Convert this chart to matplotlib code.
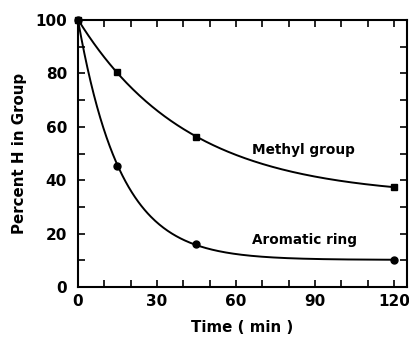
import numpy as np
import matplotlib.pyplot as plt

# readings
t = [0, 15, 45, 120]
methyl = [100, 80.5, 56, 37.5]
aromatic = [100, 45.5, 16, 10]


def fit_exp(x, y):
    # y = a + b*exp(-k x), grid over k, least squares for a, b
    x = np.asarray(x, float)
    y = np.asarray(y, float)
    best = None
    for k in np.linspace(0.002, 0.2, 2000):
        A = np.column_stack([np.ones_like(x), np.exp(-k * x)])
        coef, *_ = np.linalg.lstsq(A, y, rcond=None)
        err = np.sum((A @ coef - y) ** 2)
        if best is None or err < best[0]:
            best = (err, coef[0], coef[1], k)
    return best[1:]


fig = plt.figure(figsize=(4.09, 3.39), dpi=100)
ax = fig.add_axes([78 / 409, 52 / 339, 329 / 409, 267 / 339])

tt = np.linspace(0, 120, 300)
for y, m in [(methyl, "s"), (aromatic, "o")]:
    a, b, k = fit_exp(t, y)
    ax.plot(tt, a + b * np.exp(-k * tt), color="black", lw=1.4)
    ax.plot(t, y, m, color="black", ms=5, clip_on=False)

ax.text(66, 51.3, "Methyl group", fontsize=9.8, fontweight="bold", va="center")
ax.text(66, 17.6, "Aromatic ring", fontsize=9.8, fontweight="bold", va="center")

ax.set_xlim(0, 125)
ax.set_ylim(0, 100)
ax.set_xticks([0, 30, 60, 90, 120])
ax.set_xticks(range(0, 121, 10), minor=True)
ax.set_yticks([0, 20, 40, 60, 80, 100])
ax.set_yticks(range(0, 101, 10), minor=True)
ax.tick_params(which="both", direction="in", top=True, right=True, width=1.2)
ax.tick_params(which="major", length=5, labelsize=11, pad=5)
ax.tick_params(which="minor", length=5)
ax.tick_params(axis="y", which="major", pad=8)
for lab in ax.get_xticklabels() + ax.get_yticklabels():
    lab.set_fontweight("bold")
for s in ax.spines.values():
    s.set_linewidth(1.5)

ax.set_xlabel("Time ( min )", fontsize=10.8, fontweight="bold", labelpad=8)
ax.set_ylabel("Percent H in Group", fontsize=10.8, fontweight="bold", labelpad=6)

fig.savefig("out.png", dpi=100)
